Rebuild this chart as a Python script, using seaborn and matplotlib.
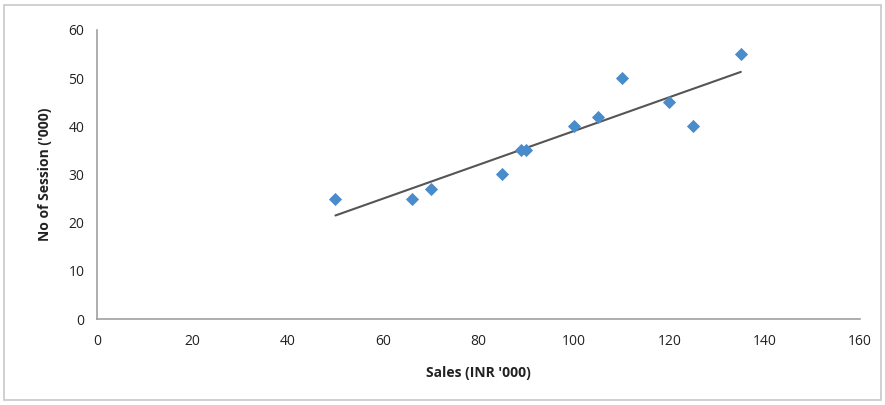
import matplotlib
matplotlib.use("Agg")
import matplotlib.pyplot as plt
import seaborn as sns
import pandas as pd
import numpy as np
from matplotlib.patches import Rectangle

sales = [50, 66, 70, 85, 89, 90, 100, 105, 110, 120, 125, 135]
sessions = [25, 25, 27, 30, 35, 35, 40, 42, 50, 45, 40, 55]
x_ticks = [0, 20, 40, 60, 80, 100, 120, 140, 160]
y_ticks = [0, 10, 20, 30, 40, 50, 60]

df = pd.DataFrame({"sales": sales, "sessions": sessions})

sns.set_style("white")
plt.rcParams['font.family'] = ['Open Sans', 'DejaVu Sans']

fig = plt.figure(figsize=(8.85, 4.05), dpi=100)
ax = fig.add_axes([0.1096, 0.2123, 0.8622, 0.7137])

sns.regplot(data=df, x="sales", y="sessions", ax=ax, scatter=False, ci=None,
            truncate=True, line_kws=dict(color="#555555", lw=1.5))
sns.scatterplot(data=df, x="sales", y="sessions", ax=ax, marker="D", s=45,
                color="#4A8CCB", edgecolor="#4A8CCB", linewidth=0, zorder=3)

ax.set_xlim(0, 160)
ax.set_ylim(0, 60)
ax.set_xticks(x_ticks)
ax.set_yticks(y_ticks)
ax.tick_params(axis="both", direction="inout", length=6, width=1, color="#a0a0a0",
               labelsize=10, labelcolor="#222222")
ax.tick_params(axis="x", pad=8)
ax.tick_params(axis="y", pad=6)
for s in ["top", "right"]:
    ax.spines[s].set_visible(False)
for s in ["left", "bottom"]:
    ax.spines[s].set_color("#a0a0a0")
    ax.spines[s].set_linewidth(1.2)
ax.set_xlabel("Sales (INR '000)", fontsize=10, fontweight="bold", color="#222222", labelpad=12)
ax.set_ylabel("No of Session ('000)", fontsize=10, fontweight="bold", color="#222222", labelpad=12)

fig.patches.append(Rectangle((0.004, 0.012), 0.992, 0.976, transform=fig.transFigure,
                             fill=False, edgecolor="#c8c8c8", linewidth=1.2))

fig.savefig("out.png", dpi=100)
